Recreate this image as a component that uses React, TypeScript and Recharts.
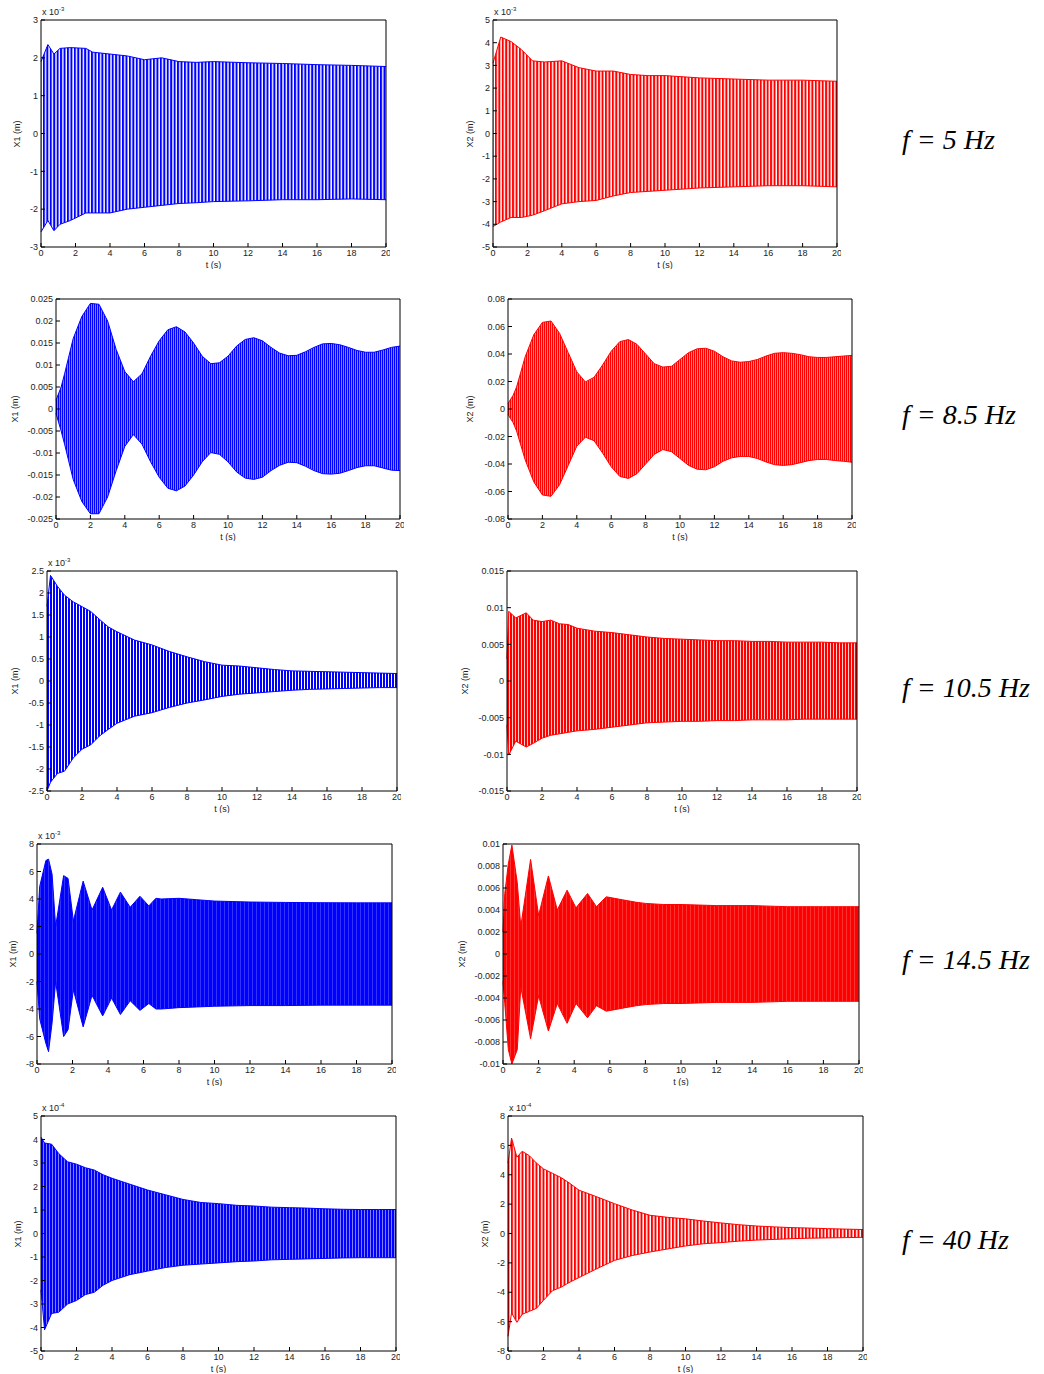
import React from 'react';
import { ComposedChart, Area, XAxis, YAxis } from 'recharts';

const tTicks = [0, 2, 4, 6, 8, 10, 12, 14, 16, 18, 20];

// f = 5 Hz (x 10^-3)
const t5x1 = [0, 0.4, 0.75, 1.1, 1.7, 2.6, 3, 4, 5, 6, 7, 8, 9, 10, 12, 14, 16, 18, 20];
const hi5x1 = [1.9, 2.35, 2.1, 2.25, 2.27, 2.25, 2.15, 2.1, 2.05, 1.95, 2.0, 1.9, 1.88, 1.9, 1.87, 1.85, 1.82, 1.8, 1.77];
const lo5x1 = [-2.6, -2.3, -2.57, -2.4, -2.3, -2.1, -2.1, -2.1, -2.0, -1.95, -1.9, -1.85, -1.83, -1.8, -1.78, -1.75, -1.75, -1.73, -1.75];
const t5x2 = [0, 0.45, 1.05, 1.65, 2.3, 3, 4, 5, 6, 7, 8, 9, 10, 12, 14, 16, 18, 20];
const hi5x2 = [3.1, 4.25, 4.05, 3.7, 3.2, 3.15, 3.2, 2.9, 2.75, 2.75, 2.6, 2.55, 2.55, 2.45, 2.4, 2.35, 2.35, 2.3];
const lo5x2 = [-4.1, -3.9, -3.7, -3.7, -3.6, -3.4, -3.1, -3.0, -2.95, -2.75, -2.6, -2.55, -2.5, -2.4, -2.35, -2.3, -2.3, -2.35];

// f = 8.5 Hz
const t85 = [0, 0.3, 0.5, 1, 1.5, 2, 2.5, 3, 3.5, 4, 4.5, 5, 5.5, 6, 6.5, 7, 7.5, 8, 8.5, 9, 9.5, 10, 10.5, 11, 11.5, 12, 12.5, 13, 13.5, 14, 14.5, 15, 15.5, 16, 16.5, 17, 17.5, 18, 18.5, 19, 19.5, 20];
const hi85x1 = [0.002, 0.005, 0.008, 0.016, 0.021, 0.024, 0.0238, 0.02, 0.0135, 0.0085, 0.0062, 0.008, 0.012, 0.0155, 0.018, 0.0187, 0.0175, 0.015, 0.012, 0.0103, 0.0105, 0.012, 0.0143, 0.0158, 0.0162, 0.0155, 0.014, 0.0127, 0.0121, 0.0122, 0.013, 0.014, 0.0148, 0.0149, 0.0146, 0.014, 0.0133, 0.0129, 0.0129, 0.0134, 0.014, 0.0143];
const lo85x1 = [-0.001, -0.005, -0.008, -0.016, -0.021, -0.0238, -0.0238, -0.02, -0.014, -0.0085, -0.0058, -0.008, -0.012, -0.0155, -0.018, -0.0186, -0.0175, -0.015, -0.012, -0.0099, -0.0103, -0.012, -0.0143, -0.0157, -0.016, -0.0155, -0.014, -0.0128, -0.0121, -0.0122, -0.013, -0.014, -0.0147, -0.0148, -0.0146, -0.014, -0.0133, -0.0129, -0.0129, -0.0134, -0.0139, -0.014];
const hi85x2 = [0.004, 0.01, 0.016, 0.038, 0.054, 0.063, 0.064, 0.055, 0.041, 0.027, 0.0197, 0.023, 0.032, 0.042, 0.049, 0.0505, 0.047, 0.04, 0.033, 0.0305, 0.031, 0.036, 0.041, 0.0438, 0.0442, 0.042, 0.038, 0.035, 0.034, 0.0345, 0.036, 0.0385, 0.0405, 0.041, 0.0405, 0.0395, 0.038, 0.0375, 0.0375, 0.038, 0.0385, 0.039];
const lo85x2 = [-0.004, -0.01, -0.016, -0.037, -0.053, -0.0625, -0.0635, -0.055, -0.041, -0.027, -0.0205, -0.023, -0.032, -0.042, -0.049, -0.0505, -0.047, -0.04, -0.033, -0.0295, -0.031, -0.036, -0.041, -0.0438, -0.0442, -0.042, -0.038, -0.0355, -0.0345, -0.0345, -0.036, -0.0385, -0.0405, -0.041, -0.0405, -0.039, -0.0375, -0.0367, -0.0367, -0.0375, -0.038, -0.0387];

// f = 10.5 Hz
const t105x1 = [0, 0.2, 0.6, 1, 1.5, 2, 2.5, 3, 3.5, 4, 5, 6, 7, 8, 9, 10, 11, 12, 13, 14, 15, 16, 17, 18, 19, 20];
const hi105x1 = [1.7, 2.4, 2.15, 1.95, 1.8, 1.69, 1.58, 1.4, 1.23, 1.12, 0.93, 0.82, 0.67, 0.55, 0.44, 0.36, 0.34, 0.3, 0.26, 0.23, 0.22, 0.21, 0.2, 0.19, 0.18, 0.17];
const lo105x1 = [-2.5, -2.3, -2.1, -2.05, -1.75, -1.55, -1.45, -1.25, -1.1, -0.96, -0.8, -0.72, -0.6, -0.5, -0.43, -0.35, -0.3, -0.27, -0.24, -0.21, -0.19, -0.18, -0.17, -0.16, -0.15, -0.15];
const t105x2 = [0, 0.1, 0.5, 1.1, 1.5, 2, 2.5, 3, 3.5, 4, 5, 6, 7, 8, 9, 10, 11, 12, 13, 14, 15, 16, 17, 18, 19, 20];
const hi105x2 = [0.003, 0.0095, 0.0086, 0.0093, 0.0083, 0.0081, 0.0083, 0.0078, 0.0077, 0.0072, 0.0068, 0.0066, 0.0063, 0.006, 0.0058, 0.0057, 0.0056, 0.0055, 0.0055, 0.0054, 0.0054, 0.0053, 0.0053, 0.0053, 0.0052, 0.0052];
const lo105x2 = [-0.006, -0.0101, -0.0082, -0.009, -0.0085, -0.0078, -0.0074, -0.0072, -0.007, -0.0068, -0.0066, -0.0063, -0.006, -0.0057, -0.0056, -0.0055, -0.0055, -0.0054, -0.0054, -0.0053, -0.0053, -0.0053, -0.0052, -0.0052, -0.0052, -0.0052];

// f = 14.5 Hz
const t145x1 = [0, 0.15, 0.5, 0.65, 0.85, 1.05, 1.5, 1.75, 2.05, 2.6, 3.1, 3.7, 4.2, 4.7, 5.25, 5.8, 6.3, 6.7, 7, 8, 9, 10, 12, 14, 16, 18, 20];
const hi145x1 = [1.5, 4.9, 6.8, 6.9, 5.8, 2.0, 5.7, 5.5, 2.4, 5.3, 3.2, 4.85, 3.2, 4.5, 3.4, 4.2, 3.5, 4.05, 4.0, 4.05, 3.95, 3.85, 3.78, 3.75, 3.73, 3.72, 3.72];
const lo145x1 = [-2.0, -4.7, -6.5, -7.1, -5.0, -2.0, -6.0, -5.5, -2.6, -5.3, -3.0, -4.5, -3.2, -4.4, -3.4, -4.1, -3.6, -4.0, -4.0, -3.9, -3.85, -3.8, -3.75, -3.75, -3.72, -3.72, -3.72];
const t145x2 = [0, 0.1, 0.3, 0.5, 0.8, 1.0, 1.55, 2.0, 2.55, 3.05, 3.6, 4.1, 4.75, 5.25, 5.8, 6.8, 7.5, 8, 9, 10, 12, 14, 16, 18, 20];
const hi145x2 = [0.002, 0.0055, 0.0082, 0.0099, 0.0065, 0.0025, 0.0086, 0.0035, 0.0071, 0.004, 0.0058, 0.0042, 0.0055, 0.0043, 0.0052, 0.0049, 0.0047, 0.0046, 0.0045, 0.0045, 0.0044, 0.0044, 0.0043, 0.0043, 0.0043];
const lo145x2 = [-0.0025, -0.0045, -0.0087, -0.01, -0.0087, -0.003, -0.0077, -0.0038, -0.007, -0.0045, -0.0063, -0.0045, -0.0058, -0.0047, -0.0052, -0.0049, -0.0047, -0.0046, -0.0045, -0.0045, -0.0044, -0.0044, -0.0043, -0.0043, -0.0043];

// f = 40 Hz (x 10^-4)
const t40x1 = [0, 0.2, 0.6, 1, 1.5, 2, 2.5, 3, 3.5, 4, 5, 6, 7, 8, 9, 10, 11, 12, 13, 14, 15, 16, 17, 18, 19, 20];
const hi40x1 = [4.1, 3.85, 3.8, 3.4, 3.05, 2.95, 2.8, 2.7, 2.5, 2.35, 2.1, 1.85, 1.65, 1.45, 1.32, 1.27, 1.2, 1.17, 1.12, 1.1, 1.08, 1.05, 1.03, 1.02, 1.02, 1.02];
const lo40x1 = [-2.4, -4.1, -3.4, -3.35, -3.0, -2.85, -2.6, -2.5, -2.2, -2.0, -1.75, -1.6, -1.45, -1.35, -1.3, -1.25, -1.2, -1.17, -1.12, -1.1, -1.08, -1.06, -1.04, -1.03, -1.03, -1.03];
const t40x2 = [0, 0.2, 0.5, 0.8, 1.2, 1.6, 2, 2.5, 3, 3.5, 4, 5, 6, 7, 8, 9, 10, 11, 12, 13, 14, 15, 16, 17, 18, 19, 20];
const hi40x2 = [4.8, 6.5, 5.2, 5.6, 5.3, 4.8, 4.4, 4.1, 3.8, 3.4, 2.95, 2.5, 2.03, 1.6, 1.24, 1.1, 1.0, 0.85, 0.72, 0.6, 0.51, 0.45, 0.4, 0.37, 0.33, 0.3, 0.27];
const lo40x2 = [-7.0, -5.4, -6.05, -5.5, -5.3, -5.1, -4.55, -3.9, -3.65, -3.3, -3.0, -2.4, -1.83, -1.5, -1.26, -1.05, -0.85, -0.7, -0.62, -0.52, -0.45, -0.4, -0.35, -0.32, -0.3, -0.28, -0.26];

const yTicks5x1 = [-3, -2, -1, 0, 1, 2, 3];
const yTicks5x2 = [-5, -4, -3, -2, -1, 0, 1, 2, 3, 4, 5];
const yTicks85x1 = [-0.025, -0.02, -0.015, -0.01, -0.005, 0, 0.005, 0.01, 0.015, 0.02, 0.025];
const yTicks85x2 = [-0.08, -0.06, -0.04, -0.02, 0, 0.02, 0.04, 0.06, 0.08];
const yTicks105x1 = [-2.5, -2, -1.5, -1, -0.5, 0, 0.5, 1, 1.5, 2, 2.5];
const yTicks105x2 = [-0.015, -0.01, -0.005, 0, 0.005, 0.01, 0.015];
const yTicks145x1 = [-8, -6, -4, -2, 0, 2, 4, 6, 8];
const yTicks145x2 = [-0.01, -0.008, -0.006, -0.004, -0.002, 0, 0.002, 0.004, 0.006, 0.008, 0.01];
const yTicks40x1 = [-5, -4, -3, -2, -1, 0, 1, 2, 3, 4, 5];
const yTicks40x2 = [-8, -6, -4, -2, 0, 2, 4, 6, 8];

const freqLabels = ['f = 5 Hz', 'f = 8.5 Hz', 'f = 10.5 Hz', 'f = 14.5 Hz', 'f = 40 Hz'];

const BLUE = '#0000ff';
const RED = '#ff0000';
const tickStyle = { fontSize: 9, fill: '#222', fontFamily: 'Liberation Sans, Arial, sans-serif' };

type PanelProps = {
  id: string;
  box: [number, number, number, number];
  t: number[];
  hi: number[];
  lo: number[];
  yTicks: number[];
  color: string;
  yLabel: string;
  labelGap: number;
  exp?: string;
  stripe: [number, number];
};

const AXW = 60;
const XAH = 22;
const PAD = 4;

const Panel = ({ id, box, t, hi, lo, yTicks, color, yLabel, labelGap, exp, stripe }: PanelProps) => {
  const [x, y, w, h] = box;
  const data = t.map((v, i) => ({ t: v, range: [lo[i], hi[i]] }));
  const yDomain = [yTicks[0], yTicks[yTicks.length - 1]];
  // top / right axes are 1px wide so recharts still draws them (frame + inner ticks)
  return (
    <>
      <div style={{ position: 'absolute', left: x - AXW, top: y - PAD }}>
        <ComposedChart
          width={w + AXW + PAD}
          height={h + PAD + XAH}
          data={data}
          margin={{ top: PAD - 1, right: PAD - 1, bottom: 0, left: 0 }}
        >
          <defs>
            <pattern id={`stripe-${id}`} width={stripe[0]} height={10} patternUnits="userSpaceOnUse">
              <rect x={0} y={0} width={stripe[1]} height={10} fill={color} />
            </pattern>
          </defs>
          <XAxis
            dataKey="t"
            type="number"
            domain={[0, 20]}
            ticks={tTicks}
            interval={0}
            height={XAH}
            tickSize={-4}
            tickMargin={7}
            tick={tickStyle}
            stroke="#000"
            label={{ value: 't (s)', position: 'insideBottom', offset: 1, style: { ...tickStyle } }}
          />
          <XAxis
            xAxisId="top"
            orientation="top"
            dataKey="t"
            type="number"
            domain={[0, 20]}
            ticks={tTicks}
            interval={0}
            height={1}
            tickSize={-4}
            tick={false}
            stroke="#000"
          />
          <YAxis
            type="number"
            domain={yDomain}
            ticks={yTicks}
            interval={0}
            width={AXW}
            tickSize={-4}
            tickMargin={7}
            tick={tickStyle}
            stroke="#000"
            allowDataOverflow
          />
          <YAxis
            yAxisId="right"
            orientation="right"
            type="number"
            domain={yDomain}
            ticks={yTicks}
            interval={0}
            width={1}
            tickSize={-4}
            tick={false}
            stroke="#000"
          />
          <Area
            type="linear"
            dataKey="range"
            stroke={color}
            strokeWidth={1}
            fill={`url(#stripe-${id})`}
            fillOpacity={1}
            isAnimationActive={false}
            dot={false}
            activeDot={false}
          />
        </ComposedChart>
      </div>
      <div
        style={{
          position: 'absolute',
          left: x - labelGap,
          top: y + h / 2,
          transform: 'translate(-50%, -50%) rotate(-90deg)',
          fontSize: 9,
          whiteSpace: 'nowrap',
          color: '#222',
        }}
      >
        {yLabel}
      </div>
      {exp && (
        <div style={{ position: 'absolute', left: x + 1, top: y - 14, fontSize: 9, color: '#222', whiteSpace: 'nowrap' }}>
          x 10<sup style={{ fontSize: 6 }}>{exp}</sup>
        </div>
      )}
    </>
  );
};

export default function App() {
  const labelTops = [140, 415, 688, 960, 1240];
  return (
    <div
      style={{
        position: 'absolute',
        left: 0,
        top: 0,
        width: 1044,
        height: 1374,
        background: '#fff',
        fontFamily: 'Liberation Sans, Arial, sans-serif',
      }}
    >
      <Panel id="p1" box={[41, 20, 345, 227]} t={t5x1} hi={hi5x1} lo={lo5x1} yTicks={yTicks5x1} color={BLUE} yLabel="X1 (m)" labelGap={24} exp="-3" stripe={[3.44, 2]} />
      <Panel id="p2" box={[493, 20, 344, 227]} t={t5x2} hi={hi5x2} lo={lo5x2} yTicks={yTicks5x2} color={RED} yLabel="X2 (m)" labelGap={23} exp="-3" stripe={[3.44, 2]} />
      <Panel id="p3" box={[56, 299, 344, 220]} t={t85} hi={hi85x1} lo={lo85x1} yTicks={yTicks85x1} color={BLUE} yLabel="X1 (m)" labelGap={41} stripe={[2, 1.5]} />
      <Panel id="p4" box={[508, 299, 344, 220]} t={t85} hi={hi85x2} lo={lo85x2} yTicks={yTicks85x2} color={RED} yLabel="X2 (m)" labelGap={38} stripe={[2, 1.5]} />
      <Panel id="p5" box={[47, 571, 350, 220]} t={t105x1} hi={hi105x1} lo={lo105x1} yTicks={yTicks105x1} color={BLUE} yLabel="X1 (m)" labelGap={32} exp="-3" stripe={[3, 2]} />
      <Panel id="p6" box={[507, 571, 350, 220]} t={t105x2} hi={hi105x2} lo={lo105x2} yTicks={yTicks105x2} color={RED} yLabel="X2 (m)" labelGap={42} stripe={[3, 2.2]} />
      <Panel id="p7" box={[37, 844, 355, 220]} t={t145x1} hi={hi145x1} lo={lo145x1} yTicks={yTicks145x1} color={BLUE} yLabel="X1 (m)" labelGap={24} exp="-3" stripe={[4, 3.8]} />
      <Panel id="p8" box={[503, 844, 356, 220]} t={t145x2} hi={hi145x2} lo={lo145x2} yTicks={yTicks145x2} color={RED} yLabel="X2 (m)" labelGap={41} stripe={[4, 3.8]} />
      <Panel id="p9" box={[41, 1116, 355, 235]} t={t40x1} hi={hi40x1} lo={lo40x1} yTicks={yTicks40x1} color={BLUE} yLabel="X1 (m)" labelGap={23} exp="-4" stripe={[3, 2.5]} />
      <Panel id="p10" box={[508, 1116, 355, 235]} t={t40x2} hi={hi40x2} lo={lo40x2} yTicks={yTicks40x2} color={RED} yLabel="X2 (m)" labelGap={23} exp="-4" stripe={[3.5, 2]} />
      {freqLabels.map((s, i) => (
        <div
          key={s}
          style={{
            position: 'absolute',
            left: 902,
            top: labelTops[i] - 18,
            lineHeight: '36px',
            fontFamily: 'Liberation Serif, Times New Roman, serif',
            fontStyle: 'italic',
            fontSize: 28,
            whiteSpace: 'nowrap',
            color: '#000',
          }}
        >
          {s}
        </div>
      ))}
    </div>
  );
}
